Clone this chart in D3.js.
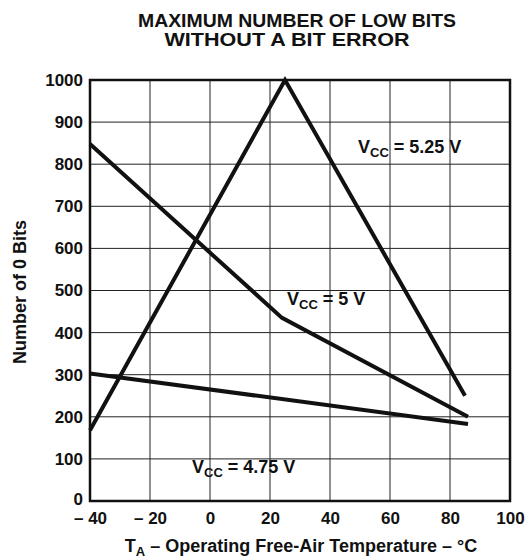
<!DOCTYPE html>
<html>
<head>
<meta charset="utf-8">
<script src="https://cdn.jsdelivr.net/npm/d3@7"></script>
<style>
  html, body { margin: 0; padding: 0; background: #fff; }
  text { font-family: "Liberation Sans", Arial, Helvetica, sans-serif; font-weight: bold; fill: #111; }
</style>
</head>
<body>
<svg id="chart" width="530" height="559"></svg>
<script>
// Temperature (°C) breakpoints and bit counts for each supply voltage
const temp525 = [-40, 25, 85];
const bits525 = [168, 1000, 250];
const temp500 = [-40, 24, 86];
const bits500 = [848, 435, 200];
const temp475 = [-40, 86];
const bits475 = [303, 183];

const xTicks = [-40, -20, 0, 20, 40, 60, 80, 100];
const yTicks = [0, 100, 200, 300, 400, 500, 600, 700, 800, 900, 1000];

const svg = d3.select("#chart");
const margin = { left: 90, right: 20, top: 80, bottom: 58 };
const W = 530, H = 559;

const x = d3.scaleLinear().domain([-40, 100]).range([margin.left, W - margin.right]);
const y = d3.scaleLinear().domain([0, 1000]).range([H - margin.bottom, margin.top]);

// grid
const grid = svg.append("g").attr("stroke", "#222").attr("stroke-width", 1);
grid.selectAll(".gx").data(xTicks.slice(1, -1)).join("line")
  .attr("x1", d => x(d)).attr("x2", d => x(d))
  .attr("y1", y(0)).attr("y2", y(1000));
grid.selectAll(".gy").data(yTicks.slice(1, -1)).join("line")
  .attr("x1", x(-40)).attr("x2", x(100))
  .attr("y1", d => y(d)).attr("y2", d => y(d));

// frame
svg.append("rect")
  .attr("x", x(-40)).attr("y", y(1000))
  .attr("width", x(100) - x(-40)).attr("height", y(0) - y(1000))
  .attr("fill", "none").attr("stroke", "#111").attr("stroke-width", 2.5);

// axes tick labels
const fmt = d => d < 0 ? "\u2013 " + Math.abs(d) : d3.format("d")(d);
const xAxis = d3.axisBottom(x).tickValues(xTicks).tickFormat(fmt).tickSize(0).tickPadding(11);
const gx = svg.append("g").attr("transform", `translate(0,${y(0)})`).call(xAxis);
gx.select(".domain").remove();
gx.selectAll("text").attr("font-size", 17).attr("font-family", null).attr("fill", "#111");

const yAxis = d3.axisLeft(y).tickValues(yTicks).tickFormat(d3.format("d")).tickSize(0).tickPadding(7);
const gy = svg.append("g").attr("transform", `translate(${x(-40)},0)`).call(yAxis);
gy.select(".domain").remove();
gy.selectAll("text").attr("font-size", 17).attr("font-family", null).attr("fill", "#111");
// keep the zero label clear of the x tick labels below it
gy.selectAll("text").filter(d => d === 0).attr("dy", "0.2em");

// series lines
const line = d3.line().x(d => x(d[0])).y(d => y(d[1]));
const series = [
  d3.zip(temp525, bits525),
  d3.zip(temp500, bits500),
  d3.zip(temp475, bits475)
];
svg.append("g").selectAll("path").data(series).join("path")
  .attr("d", line)
  .attr("fill", "none").attr("stroke", "#111").attr("stroke-width", 4)
  .attr("stroke-linejoin", "miter").attr("stroke-linecap", "butt");

// series labels
function vccLabel(px, py, rest) {
  const t = svg.append("text").attr("x", px).attr("y", py).attr("font-size", 18);
  t.append("tspan").text("V");
  t.append("tspan").attr("font-size", 13).attr("dy", 4).text("CC");
  t.append("tspan").attr("dy", -4).text(" = " + rest);
}
vccLabel(358, 153, "5.25 V");
vccLabel(287, 305, "5 V");
vccLabel(192, 473, "4.75 V");

// title
svg.append("text").attr("x", 297).attr("y", 27).attr("text-anchor", "middle")
  .attr("font-size", 19).attr("textLength", 318).attr("lengthAdjust", "spacingAndGlyphs")
  .text("MAXIMUM NUMBER OF LOW BITS");
svg.append("text").attr("x", 287).attr("y", 46).attr("text-anchor", "middle")
  .attr("font-size", 19).attr("textLength", 245).attr("lengthAdjust", "spacingAndGlyphs")
  .text("WITHOUT A BIT ERROR");

// axis titles
svg.append("text")
  .attr("transform", `translate(26,292) rotate(-90)`)
  .attr("text-anchor", "middle").attr("font-size", 18).text("Number of 0 Bits");

const xt = svg.append("text").attr("x", 301).attr("y", 552).attr("text-anchor", "middle").attr("font-size", 18);
xt.append("tspan").text("T");
xt.append("tspan").attr("font-size", 13).attr("dy", 4).text("A");
xt.append("tspan").attr("dy", -4).text(" \u2013 Operating Free-Air Temperature \u2013 \u00B0C");
</script>
</body>
</html>
